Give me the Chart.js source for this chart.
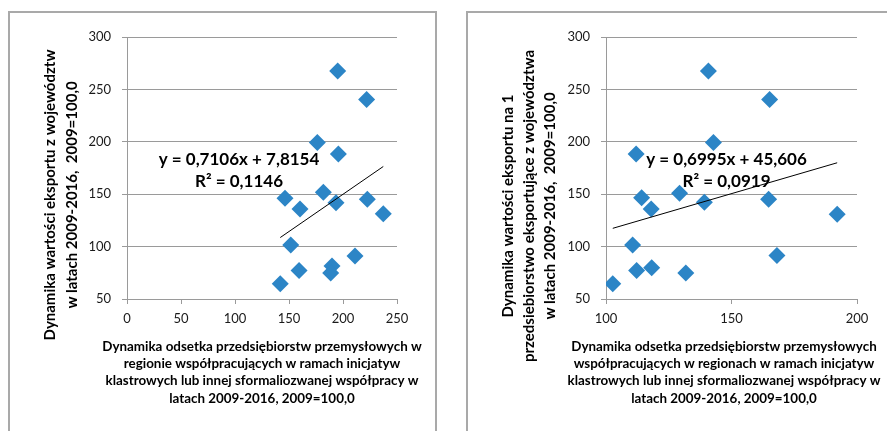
<!DOCTYPE html>
<html>
<head>
<meta charset="utf-8">
<script src="https://cdn.jsdelivr.net/npm/chart.js@4.4.0/dist/chart.umd.min.js"></script>
<style>
  html, body { margin: 0; padding: 0; background: #fff; }
  body { width: 887px; height: 431px; position: relative; overflow: hidden; }
  .frame { position: absolute; border: 2px solid #a9a9a9; box-sizing: border-box; }
  canvas { position: absolute; top: 0; }
</style>
</head>
<body>
<div class="frame" style="left:8px; top:11px; width:429px; height:440px;"></div>
<div class="frame" style="left:466px; top:11px; width:440px; height:440px;"></div>
<canvas id="left" width="440" height="431" style="left:0"></canvas>
<canvas id="right" width="447" height="431" style="left:440px"></canvas>
<script>
// values, one diamond per voivodeship
const leftX = [195.1, 221.9, 176.2, 195.7, 146.3, 160.2, 181.8, 193.5, 222.5, 237.3, 151.6, 211.1, 159.3, 189.8, 188.6, 141.9];
const leftY = [267.6, 240.4, 199.4, 188.3, 146.1, 135.9, 151.8, 141.9, 145.1, 131.4, 101.6, 91.1, 77.1, 81.6, 74.7, 64.5];
const rightX = [140.8, 165.2, 142.8, 112.0, 114.2, 118.0, 129.3, 139.2, 164.8, 192.1, 110.6, 168.1, 112.2, 118.2, 131.8, 102.7];
const rightY = [267.6, 240.4, 199.4, 188.3, 146.7, 135.9, 150.8, 142.2, 145.1, 130.9, 101.6, 91.4, 77.1, 79.7, 74.7, 64.5];

const leftXTicks = [0, 50, 100, 150, 200, 250];
const rightXTicks = [100, 150, 200];
const yTicks = [50, 100, 150, 200, 250, 300];

// linear trend as printed on the chart
const leftSlope = 0.7106, leftIntercept = 7.8154;
const rightSlope = 0.6995, rightIntercept = 45.606;

const leftEquation = ["y = 0,7106x + 7,8154", "R\u00b2 = 0,1146"];
const rightEquation = ["y = 0,6995x + 45,606", "R\u00b2 = 0,0919"];

const leftXTitle = [
  "Dynamika odsetka przedsiębiorstw przemysłowych w",
  "regionie współpracujących w ramach inicjatyw",
  "klastrowych lub innej sformaliozwanej współpracy w",
  "latach 2009-2016, 2009=100,0"
];
const rightXTitle = [
  "Dynamika odsetka przedsiębiorstw przemysłowych",
  "współpracujących w regionach w ramach inicjatyw",
  "klastrowych lub innej sformaliozwanej współpracy w",
  "latach 2009-2016, 2009=100,0"
];
const leftYTitle = [
  "Dynamika wartości eksportu z województw",
  "w latach 2009-2016,  2009=100,0"
];
const rightYTitle = [
  "Dynamika wartości eksportu na 1",
  "przedsiebiorstwo eksportujące z województwa",
  "w latach 2009-2016,  2009=100,0"
];

const GRID = "#9a9a9a";
const BLUE = "#2c85c6";
const FONT = "Lato, 'Open Sans', sans-serif";

function zip(xs, ys) {
  return xs.map((x, i) => ({ x, y: ys[i] }));
}

function trend(xs, slope, intercept) {
  const lo = Math.min(...xs), hi = Math.max(...xs);
  return [
    { x: lo, y: slope * lo + intercept },
    { x: hi, y: slope * hi + intercept }
  ];
}

// draws axis titles and the trend equation
function textPlugin(t) {
  return {
    id: "texts",
    afterDraw(chart) {
      const ctx = chart.ctx;
      ctx.save();
      ctx.fillStyle = "#000";
      ctx.textAlign = "center";
      ctx.textBaseline = "middle";

      ctx.font = "bold 15px " + FONT;
      t.yTitle.forEach((line, i) => {
        ctx.save();
        ctx.translate(t.yTitleX + i * t.yTitleGap, t.yTitleY);
        ctx.rotate(-Math.PI / 2);
        ctx.fillText(line, 0, 0);
        ctx.restore();
      });

      ctx.font = "bold 13.4px " + FONT;
      t.xTitle.forEach((line, i) => {
        ctx.fillText(line, t.xTitleX, t.xTitleY + i * 17.2);
      });

      ctx.font = "bold 17px " + FONT;
      ctx.fillText(t.equation[0], t.eqX, t.eqY);
      ctx.fillText(t.equation[1], t.eqX, t.eqY + 22.4);
      ctx.restore();
    }
  };
}

function makeChart(id, opts) {
  const ctx = document.getElementById(id).getContext("2d");
  return new Chart(ctx, {
    type: "scatter",
    data: {
      datasets: [
        {
          data: trend(opts.xs, opts.slope, opts.intercept),
          showLine: true,
          borderColor: "#000",
          borderWidth: 1,
          pointRadius: 0,
          fill: false,
          order: 0
        },
        {
          data: zip(opts.xs, opts.ys),
          pointStyle: "rectRot",
          pointRadius: 8.5,
          pointHoverRadius: 8.5,
          backgroundColor: BLUE,
          borderColor: BLUE,
          borderWidth: 0,
          order: 1
        }
      ]
    },
    options: {
      responsive: false,
      animation: false,
      events: [],
      layout: { padding: { top: 37, right: opts.padRight, bottom: 0, left: 0 } },
      plugins: { legend: { display: false }, tooltip: { enabled: false } },
      scales: {
        x: {
          type: "linear",
          position: "bottom",
          min: opts.xTicks[0],
          max: opts.xTicks[opts.xTicks.length - 1],
          afterBuildTicks: (s) => { s.ticks = opts.xTicks.map((v) => ({ value: v })); },
          afterFit: (s) => { s.height = 132; },
          grid: { drawOnChartArea: false, color: GRID, tickLength: 5 },
          border: { color: GRID },
          ticks: { padding: 7, color: "#1a1a1a", font: { family: FONT, size: 13 } }
        },
        y: {
          type: "linear",
          min: yTicks[0],
          max: yTicks[yTicks.length - 1],
          afterBuildTicks: (s) => { s.ticks = yTicks.map((v) => ({ value: v })); },
          afterFit: (s) => { s.width = opts.plotLeft; },
          grid: { color: GRID, tickLength: 5 },
          border: { color: GRID },
          ticks: { padding: 11, color: "#1a1a1a", font: { family: FONT, size: 13 } }
        }
      }
    },
    plugins: [textPlugin(opts.text)]
  });
}

makeChart("left", {
  xs: leftX, ys: leftY, xTicks: leftXTicks,
  slope: leftSlope, intercept: leftIntercept,
  plotLeft: 127, padRight: 43,
  text: {
    yTitle: leftYTitle, yTitleX: 50, yTitleGap: 21.7, yTitleY: 195,
    xTitle: leftXTitle, xTitleX: 262, xTitleY: 346.7,
    equation: leftEquation, eqX: 239, eqY: 159.3
  }
});

makeChart("right", {
  xs: rightX, ys: rightY, xTicks: rightXTicks,
  slope: rightSlope, intercept: rightIntercept,
  plotLeft: 166, padRight: 30,
  text: {
    yTitle: rightYTitle, yTitleX: 68.5, yTitleGap: 21, yTitleY: 206,
    xTitle: rightXTitle, xTitleX: 284, xTitleY: 346.7,
    equation: rightEquation, eqX: 286.5, eqY: 159.3
  }
});
</script>
</body>
</html>
